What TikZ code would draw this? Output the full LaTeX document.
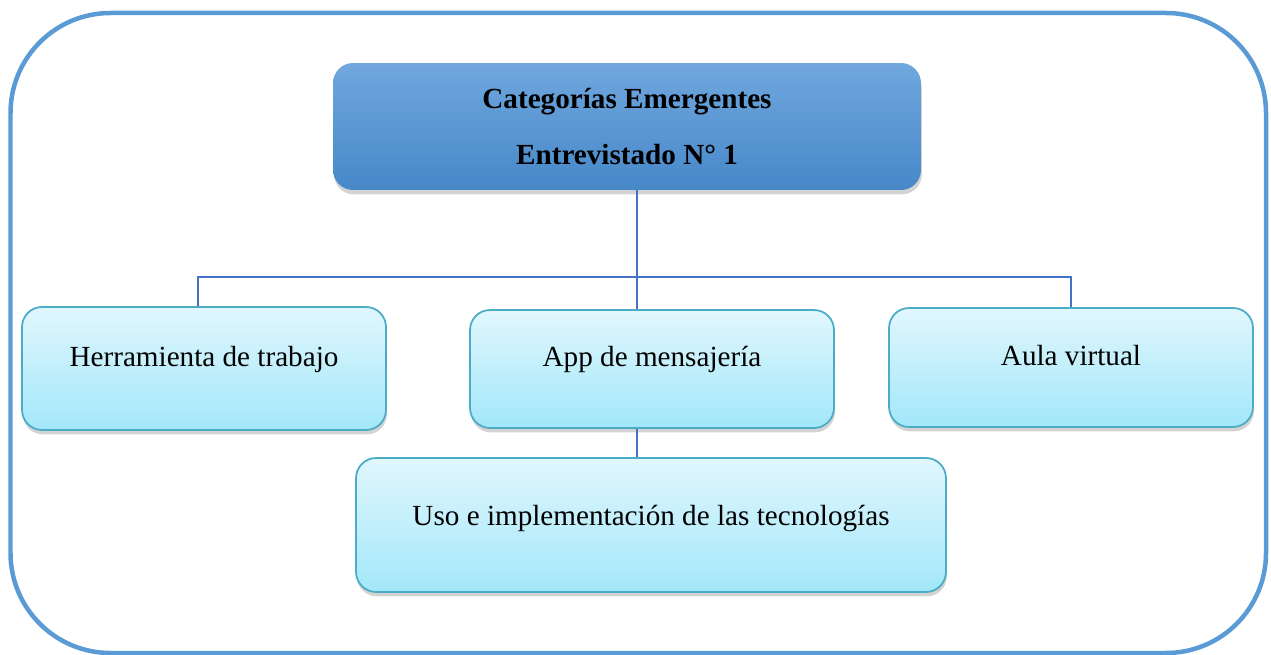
\documentclass[tikz,border=0pt]{standalone}
\usepackage{fontspec}
\setmainfont{Liberation Serif}
\usetikzlibrary{shadows,positioning,calc}
\definecolor{frameblue}{HTML}{5B9BD5}
\definecolor{headtop}{HTML}{70A7DE}
\definecolor{headbot}{HTML}{4788C9}
\definecolor{cattop}{HTML}{E1F7FD}
\definecolor{catbot}{HTML}{A2E7FA}
\definecolor{catedge}{HTML}{4BACC6}
\definecolor{linkblue}{HTML}{4472C4}
\tikzset{
head/.style={rounded corners=0.4cm,top color=headtop,bottom color=headbot,draw=none,minimum width=11.76cm,minimum height=2.54cm,align=center,font=\bfseries\fontsize{16.6}{31.8}\selectfont,drop shadow={shadow xshift=0.5pt,shadow yshift=-2.5pt,opacity=0.35}},
cat/.style={rounded corners=0.4cm,top color=cattop,bottom color=catbot,draw=catedge,line width=1pt,minimum width=#1cm,text height=0.45cm,text depth=0.55cm,font=\fontsize{16.6}{20}\selectfont,drop shadow={shadow xshift=0.5pt,shadow yshift=-2.5pt,opacity=0.35}},
line/.style={-,draw=linkblue,line width=0.8pt},
}
\begin{document}
\begin{tikzpicture}[x=0.02cm,y=-0.02cm]
  \useasboundingbox (0,0) rectangle (1271,655);
  \draw[frameblue,line width=0.09cm,rounded corners=2cm] (10.5,13) rectangle (1266,653);

  \node[head] (head) at (627,126.5) {Categorías Emergentes\\Entrevistado N° 1};
  \node[cat=7.28,minimum height=2.46cm] (box1) at (204,368.5) {Herramienta de trabajo};
  \node[cat=7.28,minimum height=2.36cm] (box2) at (652,369) {App de mensajería};
  \node[cat=7.28,minimum height=2.38cm] (box3) at (1071,367.5) {Aula virtual};
  \node[cat=11.8,minimum height=2.68cm,text depth=0.45cm] (box4) at (651,525) {Uso e implementación de las tecnologías};

  \coordinate (bus) at (637,277);
  \coordinate (drop1) at (198,307);
  \draw[line] (head.south -| bus) -- (bus);
  \draw[line] (box1.north -| drop1) |- (bus) -| (box3.north);
  \draw[line] (bus) -- (box2.north -| bus);
  \draw[line] (box2.south -| bus) -- (box4.north -| bus);
\end{tikzpicture}
\end{document}
